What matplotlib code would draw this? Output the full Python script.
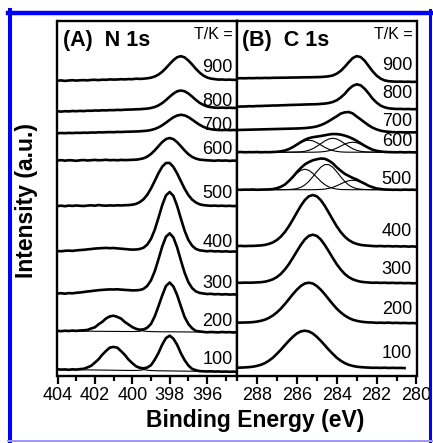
import numpy as np
import matplotlib.pyplot as plt
from matplotlib.lines import Line2D
from matplotlib.ticker import MultipleLocator

plt.rcParams['font.family'] = ['Liberation Sans', 'DejaVu Sans']

temps = ['900', '800', '700', '600', '500', '400', '300', '200', '100']

# binding energy grids (eV)
n1s_energy = np.round(np.linspace(404.0, 394.4, 49), 2)
c1s_energy = np.round(np.linspace(289.0, 280.0, 46), 2)

# N 1s spectra, intensity above each spectrum's own baseline (a.u.)
n1s_900 = [0, 0.3, -0.2, 0.2, 0.5, 0.1, 0.4, 0.6, 0.3, 0.8, 0.9, 0.6, 1.0, 0.9, 1.3, 1.1, 1.2, 1.5, 1.3, 1.6,
           1.5, 2.0, 1.8, 2.0, 2.4, 3.0, 4.2, 6.1, 8.9, 12.6, 16.7, 20.6, 23.5, 24.5, 23.3, 20.2, 16.2, 11.9, 8.1,
           5.2, 3.2, 2.1, 1.6, 1.1, 1.2, 0.9, 1.1, 0.8, 1.0]
n1s_800 = [0.2, -0.1, 0.3, 0.1, 0.5, 0.3, 0.6, 0.4, 0.8, 0.7, 1.0, 0.9, 1.2, 1.1, 1.4, 1.3, 1.6, 1.5, 1.8, 1.9,
           2.0, 2.2, 2.3, 2.6, 2.9, 3.5, 4.5, 6.1, 8.4, 11.4, 14.8, 17.9, 20.2, 21.0, 20.2, 18.0, 14.9, 11.6, 8.7,
           6.6, 5.1, 4.3, 3.9, 3.7, 3.9, 3.6, 3.8, 3.5, 3.7]
n1s_700 = [0, 0.3, 0.1, 0.4, 0.2, 0.5, 0.4, 0.6, 0.5, 0.8, 0.7, 1.0, 0.9, 1.1, 1.2, 1.1, 1.4, 1.3, 1.5, 1.6,
           1.7, 1.8, 2.0, 2.3, 2.6, 3.3, 4.3, 5.9, 8.0, 10.6, 13.4, 16.0, 17.8, 18.5, 17.9, 16.2, 13.7, 11.0, 8.5,
           6.5, 5.0, 4.1, 3.6, 3.3, 3.2, 3.4, 3.1, 3.3, 3.2]
n1s_600 = [0, 0.4, -0.2, 0.3, 0.1, -0.3, 0.2, 0.5, 0.0, 0.3, 0.6, 0.2, 0.4, 0.7, 0.3, 0.5, 0.2, 0.6, 0.4, 0.5,
           0.7, 0.8, 1.4, 2.2, 3.9, 6.5, 10.1, 14.3, 18.4, 21.4, 22.5, 21.3, 18.3, 14.2, 10.0, 6.3, 3.6, 1.9, 0.9,
           0.5, 0.2, 0.0, -0.3, 0.1, -0.2, 0.0, -0.4, -0.1, -0.3]
n1s_500 = [0, 0.3, -0.2, 0.4, 0.1, 0.5, 0.2, 0.0, 0.4, 0.7, 0.3, 1.0, 0.5, 0.3, 0.6, 0.4, 0.7, 0.5, 0.8, 0.9,
           1.3, 2.1, 3.9, 6.7, 11.2, 17.5, 25.0, 32.8, 39.3, 43.0, 43.0, 39.0, 32.5, 24.8, 17.2, 10.9, 6.4, 3.5,
           1.7, 0.9, 0.5, 0.2, 0.4, 0.1, 0.3, 0.0, 0.2, -0.1, 0.1]
n1s_400 = [0, -0.3, 0.2, 0.4, 0.1, 0.6, 0.9, 1.2, 1.6, 2.0, 2.4, 2.7, 2.9, 3.1, 2.8, 3.0, 2.6, 2.3, 2.0, 1.6,
           1.4, 1.5, 2.0, 3.3, 6.4, 12.1, 21.2, 33.2, 45.8, 55.6, 59.0, 55.0, 45.0, 32.4, 20.3, 11.0, 5.3, 2.1,
           0.7, 0.2, -0.3, 0.1, -0.4, -0.2, -0.6, -0.3, -0.7, -0.5, -0.6]
n1s_300 = [0, 0.3, -0.2, 0.4, 0.2, 0.7, 1.0, 1.5, 2.0, 2.4, 2.9, 3.3, 3.6, 3.9, 4.1, 4.0, 4.2, 3.9, 3.6, 3.4,
           3.1, 3.2, 3.5, 4.6, 7.6, 13.2, 22.2, 34.2, 46.9, 56.7, 60.2, 56.0, 46.0, 33.0, 20.7, 11.3, 5.4, 2.1,
           0.6, 0.0, -0.5, -0.3, -0.8, -0.6, -1.0, -0.7, -1.1, -0.9, -1.0]
n1s_200 = [0.2, -0.2, 0.3, 0.0, 0.4, 0.1, 0.5, 0.7, 1.1, 2.5, 3.7, 6.8, 9.2, 12.6, 14.6, 15.3, 14.1, 12.4, 9.0,
           6.5, 3.9, 2.2, 1.3, 1.6, 3.3, 7.1, 14.6, 24.8, 35.5, 45.0, 48.5, 44.4, 35.9, 24.6, 13.9, 7.0, 2.7, 0.1,
           -0.4, -0.9, -1.3, -1.0, -1.2, -1.4, -1.0, -1.3, -1.1, -1.5, -1.2]
n1s_100 = [0.2, -0.1, 0.1, -0.3, 0.2, -0.1, 0.4, 0.7, 2.1, 3.7, 6.9, 10.3, 14.9, 18.6, 21.9, 22.6, 21.8, 18.4,
           14.6, 9.9, 6.4, 3.2, 1.7, 1.2, 2.0, 4.3, 9.8, 16.5, 24.9, 31.4, 33.8, 30.8, 24.7, 16.2, 9.3, 4.0, 0.6,
           -0.7, -1.6, -1.8, -2.0, -1.8, -2.1, -1.9, -2.2, -2.0, -2.3, -2.1, -2.4]

# N 1s fitted components (401.0 and 398.0 eV)
n1s_200_fit1 = [0.0, 0.0, -0.1, -0.1, -0.1, 0.0, 0.0, 0.4, 1.0, 2.2, 3.9, 6.4, 9.4, 12.3, 14.3, 15.1, 14.3, 12.1,
                9.2, 6.2, 3.7, 1.8, 0.6, 0.0, -0.4, -0.6, -0.7, -0.7, -0.8, -0.8, -0.8, -0.8, -0.9, -0.9, -0.9,
                -1.0, -1.0, -1.0, -1.0, -1.1, -1.1, -1.1, -1.1, -1.2, -1.2, -1.2, -1.2, -1.3, -1.3]
n1s_200_fit2 = [0.0, 0.0, -0.1, -0.1, -0.1, -0.1, -0.2, -0.2, -0.2, -0.2, -0.3, -0.3, -0.3, -0.4, -0.4, -0.4,
                -0.4, -0.5, -0.5, -0.5, -0.5, -0.5, -0.2, 0.7, 2.8, 7.0, 14.3, 24.5, 35.7, 44.7, 48.2, 44.7, 35.6,
                24.3, 14.1, 6.8, 2.4, 0.3, -0.6, -1.1, -1.1, -1.1, -1.1, -1.2, -1.2, -1.2, -1.2, -1.3, -1.3]
n1s_100_fit1 = [0.0, 0.0, -0.1, -0.1, -0.1, 0.0, 0.2, 0.8, 1.9, 3.9, 6.7, 10.5, 14.7, 18.8, 21.7, 22.8, 21.6, 18.6,
                14.4, 10.1, 6.2, 3.3, 1.2, 0.0, -0.7, -1.0, -1.2, -1.3, -1.3, -1.4, -1.4, -1.5, -1.5, -1.6, -1.6,
                -1.7, -1.7, -1.8, -1.8, -1.9, -1.9, -2.0, -2.0, -2.1, -2.1, -2.2, -2.2, -2.3, -2.3]
n1s_100_fit2 = [0.0, 0.0, -0.1, -0.1, -0.2, -0.2, -0.3, -0.3, -0.4, -0.4, -0.5, -0.5, -0.6, -0.6, -0.7, -0.7,
                -0.8, -0.8, -0.9, -0.9, -1.0, -0.9, -0.8, -0.2, 1.3, 4.3, 9.5, 16.7, 24.7, 31.1, 33.6, 31.0, 24.5,
                16.4, 9.1, 3.8, 0.8, -0.9, -1.5, -1.9, -1.9, -2.0, -2.0, -2.1, -2.1, -2.2, -2.2, -2.3, -2.3]

# C 1s spectra
c1s_900 = [0.0, 0.1, 0.0, 0.2, 0.1, 0.3, 0.2, 0.4, 0.3, 0.5, 0.5, 0.6, 0.6, 0.7, 0.8, 0.8, 0.9, 1.0, 1.0, 1.1,
           1.2, 1.3, 1.6, 2.0, 2.8, 4.6, 7.4, 11.4, 16.0, 20.2, 22.2, 21.2, 17.6, 12.3, 7.0, 2.7, -0.3, -2.1, -2.9,
           -3.2, -3.4, -3.3, -3.5, -3.4, -3.6, -3.5]
c1s_800 = [0.0, 0.2, 0.2, 0.5, 0.4, 0.7, 0.7, 0.9, 1.0, 1.2, 1.2, 1.4, 1.5, 1.7, 1.8, 1.9, 2.0, 2.2, 2.3, 2.4,
           2.5, 2.8, 3.1, 3.7, 4.7, 6.4, 9.2, 12.8, 17.4, 20.8, 22.4, 21.4, 18.0, 13.3, 8.0, 4.1, 1.1, -0.6, -1.6,
           -2.0, -2.3, -2.2, -2.4, -2.3, -2.5, -2.4]
c1s_700 = [0.0, 0.1, 0.2, 0.3, 0.4, 0.5, 0.6, 0.7, 0.8, 0.9, 1.0, 1.1, 1.2, 1.3, 1.4, 1.5, 1.7, 1.9, 2.3, 2.8,
           3.6, 4.9, 6.6, 8.8, 11.3, 13.7, 16.4, 17.6, 18.0, 16.6, 13.5, 10.6, 7.6, 4.7, 2.3, 0.6, -0.7, -1.4,
           -1.8, -2.1, -2.3, -2.2, -2.4, -2.3, -2.4, -2.3]
c1s_600 = [0.0, 0.2, -0.1, 0.1, 0.0, 0.2, -0.1, 0.1, 0.0, 0.2, 0.4, 0.9, 1.7, 3.1, 5.1, 7.6, 10.1, 12.4, 14.0,
           15.0, 15.6, 16.2, 16.9, 17.7, 18.2, 18.1, 17.6, 16.6, 15.3, 13.5, 11.4, 8.9, 6.5, 4.3, 2.5, 1.4, 0.7,
           0.3, 0.1, 0.0, -0.1, 0.1, -0.2, 0.0, -0.1, -0.2]
c1s_500 = [0.0, -0.1, 0.1, 0.0, 0.2, -0.1, 0.1, 0.2, 0.3, 0.6, 1.5, 2.9, 5.1, 8.7, 12.8, 17.6, 21.7, 25.3, 27.6,
           29.4, 30.4, 31.2, 30.9, 29.1, 26.4, 22.4, 19.0, 15.9, 13.8, 11.8, 10.2, 8.0, 6.1, 3.9, 2.5, 1.2, 0.7,
           0.2, 0.1, -0.1, 0.0, -0.2, 0.1, -0.1, 0.0, -0.2]
c1s_400 = [0.0, 0.1, -0.1, 0.1, 0.1, 0.3, 0.6, 1.1, 2.1, 3.6, 6.0, 9.4, 14.0, 19.7, 26.4, 33.4, 40.2, 45.9, 49.7,
           51.0, 49.7, 45.9, 40.2, 33.4, 26.4, 19.7, 14.0, 9.4, 6.0, 3.6, 2.1, 1.1, 0.6, 0.3, 0.0, -0.2, 0.0, -0.3,
           -0.1, -0.4, -0.2, -0.5, -0.3, -0.6, -0.4, -0.7]
c1s_300 = [0.0, -0.1, 0.1, 0.0, 0.1, 0.3, 0.5, 1.0, 2.0, 3.4, 5.6, 8.8, 13.2, 18.5, 24.8, 31.4, 37.8, 43.2, 46.8,
           48.0, 46.8, 43.2, 37.8, 31.4, 24.8, 18.5, 13.2, 8.8, 5.6, 3.4, 2.0, 1.0, 0.5, 0.2, -0.1, 0.1, -0.2, 0.0,
           -0.3, -0.1, -0.4, -0.2, -0.5, -0.3, -0.6, -0.5]
c1s_200 = [0.0, 0.1, 0.2, 0.3, 0.6, 1.1, 1.9, 3.0, 4.8, 7.2, 10.3, 14.1, 18.6, 23.5, 28.5, 33.0, 36.7, 39.2, 40.0,
           39.2, 36.7, 33.0, 28.5, 23.5, 18.6, 14.1, 10.3, 7.2, 4.8, 3.0, 1.9, 1.1, 0.6, 0.3, 0.2, -0.1, 0.0, -0.2,
           0.1, -0.3, -0.1, -0.4, -0.2, -0.5, -0.3, -0.6]
c1s_100 = [0.0, 0.1, 0.3, 0.6, 1.0, 1.8, 2.9, 4.6, 7.0, 10.0, 13.9, 18.0, 22.5, 26.9, 30.9, 34.2, 36.3, 37.0, 36.3,
           34.2, 30.9, 26.9, 22.5, 18.0, 13.9, 10.0, 7.0, 4.6, 2.9, 1.8, 1.0, 0.6, 0.3, 0.1, -0.1, 0.0, -0.2, 0.0,
           -0.3, -0.1, -0.3, -0.2, -0.4, np.nan, np.nan, np.nan]

# C 1s fitted components (600 K and 500 K)
c1s_600_fit1 = [0.0, 0.0, 0.0, 0.0, 0.0, 0.0, 0.0, 0.0, 0.0, 0.1, 0.3, 0.8, 1.6, 3.0, 4.9, 7.3, 9.6, 11.4, 12.0,
                11.4, 9.6, 7.3, 4.9, 3.0, 1.6, 0.8, 0.3, 0.1, 0.0, 0.0, 0.0, 0.0, 0.0, 0.0, 0.0, 0.0, 0.0, 0.0,
                0.0, 0.0, 0.0, 0.0, 0.0, 0.0, 0.0, 0.0]
c1s_600_fit2 = [0.0, 0.0, 0.0, 0.0, 0.0, 0.0, 0.0, 0.0, 0.0, 0.0, 0.0, 0.0, 0.0, 0.0, 0.1, 0.2, 0.4, 0.9, 1.9,
                3.5, 5.8, 8.5, 11.2, 13.2, 14.0, 13.2, 11.2, 8.5, 5.8, 3.5, 1.9, 0.9, 0.4, 0.2, 0.1, 0.0, 0.0, 0.0,
                0.0, 0.0, 0.0, 0.0, 0.0, 0.0, 0.0, 0.0]
c1s_600_fit3 = [0.0, 0.0, 0.0, 0.0, 0.0, 0.0, 0.0, 0.0, 0.0, 0.0, 0.0, 0.0, 0.0, 0.0, 0.0, 0.0, 0.0, 0.0, 0.0,
                0.0, 0.1, 0.3, 0.7, 1.4, 2.5, 4.1, 6.1, 8.0, 9.5, 10.0, 9.5, 8.0, 6.1, 4.1, 2.5, 1.4, 0.7, 0.3, 0.1,
                0.0, 0.0, 0.0, 0.0, 0.0, 0.0, 0.0]
c1s_500_fit1 = [0.0, 0.0, 0.0, 0.0, 0.0, 0.0, 0.0, 0.1, 0.2, 0.6, 1.4, 2.8, 5.1, 8.4, 12.4, 16.4, 19.4, 20.5, 19.4,
                16.4, 12.4, 8.4, 5.1, 2.8, 1.4, 0.6, 0.2, 0.1, 0.0, 0.0, 0.0, 0.0, 0.0, 0.0, 0.0, 0.0, 0.0, 0.0,
                0.0, 0.0, 0.0, 0.0, 0.0, 0.0, 0.0, 0.0]
c1s_500_fit2 = [0.0, 0.0, 0.0, 0.0, 0.0, 0.0, 0.0, 0.0, 0.0, 0.0, 0.0, 0.0, 0.1, 0.2, 0.5, 1.1, 2.4, 4.7, 8.3,
                12.9, 18.0, 22.5, 25.1, 25.1, 22.5, 18.0, 12.9, 8.3, 4.7, 2.4, 1.1, 0.5, 0.2, 0.1, 0.0, 0.0, 0.0,
                0.0, 0.0, 0.0, 0.0, 0.0, 0.0, 0.0, 0.0, 0.0]
c1s_500_fit3 = [0.0, 0.0, 0.0, 0.0, 0.0, 0.0, 0.0, 0.0, 0.0, 0.0, 0.0, 0.0, 0.0, 0.0, 0.0, 0.0, 0.0, 0.0, 0.0,
                0.0, 0.1, 0.3, 0.6, 1.3, 2.4, 3.9, 5.8, 7.6, 9.0, 9.5, 9.0, 7.6, 5.8, 3.9, 2.4, 1.3, 0.6, 0.3, 0.1,
                0.0, 0.0, 0.0, 0.0, 0.0, 0.0, 0.0]

# vertical stacking offsets (baseline of each spectrum)
n1s_offsets = [295.3, 264.5, 242.7, 215.5, 170.0, 125.0, 82.5, 45.0, 6.5]
c1s_offsets = [297.7, 269.3, 246.0, 223.8, 186.3, 130.0, 93.3, 53.3, 8.3]
n1s_label_y = [309, 275, 250, 226, 183, 134, 93, 55, 17]
c1s_label_y = [311, 283, 255, 234, 196, 145, 106, 66, 22]

n1s_spectra = [n1s_900, n1s_800, n1s_700, n1s_600, n1s_500, n1s_400, n1s_300, n1s_200, n1s_100]
c1s_spectra = [c1s_900, c1s_800, c1s_700, c1s_600, c1s_500, c1s_400, c1s_300, c1s_200, c1s_100]
n1s_fits = {7: [n1s_200_fit1, n1s_200_fit2], 8: [n1s_100_fit1, n1s_100_fit2]}
c1s_fits = {3: [c1s_600_fit1, c1s_600_fit2, c1s_600_fit3], 4: [c1s_500_fit1, c1s_500_fit2, c1s_500_fit3]}

W, H = 433, 443
fig = plt.figure(figsize=(W / 100, H / 100), dpi=100)
ax_n = fig.add_axes([57.5 / W, 67 / H, 179.5 / W, 355 / H])
ax_c = fig.add_axes([237 / W, 67 / H, 179.5 / W, 355 / H])

panels = [
    (ax_n, n1s_energy, n1s_spectra, n1s_offsets, n1s_fits, n1s_label_y, (404, 394.4), [404, 402, 400, 398, 396], '(A)  N 1s'),
    (ax_c, c1s_energy, c1s_spectra, c1s_offsets, c1s_fits, c1s_label_y, (289, 280), [288, 286, 284, 282, 280], '(B)  C 1s'),
]

for ax, energy, spectra, offsets, fits, label_y, xlim, ticks, title in panels:
    for k in range(len(spectra)):
        if k in fits:
            for comp in fits[k]:
                ax.plot(energy, np.array(comp) + offsets[k], color='black', lw=0.8)
        ax.plot(energy, np.array(spectra[k]) + offsets[k], color='black', lw=1.9)
        ax.text(0.975, label_y[k], temps[k], transform=ax.get_yaxis_transform(),
                ha='right', va='center', fontsize=13)
    ax.set_xlim(*xlim)
    ax.set_ylim(0, 355)
    ax.set_yticks([])
    ax.set_xticks(ticks)
    ax.xaxis.set_minor_locator(MultipleLocator(1))
    ax.tick_params(axis='x', which='major', direction='out', length=6, width=1.6, labelsize=13, pad=2)
    ax.tick_params(axis='x', which='minor', direction='out', length=3.5, width=1.6)
    for sp in ax.spines.values():
        sp.set_linewidth(1.7)
    ax.text(0.03, 336, title, transform=ax.get_yaxis_transform(), ha='left', va='center',
            fontsize=15.5, fontweight='bold')
    ax.text(0.978, 342, 'T/K =', transform=ax.get_yaxis_transform(), ha='right', va='center', fontsize=11.5)

fig.text(255 / W, 1 - 421 / H, 'Binding Energy (eV)', ha='center', va='center', fontsize=16.5, fontweight='bold')
fig.text(27 / W, 1 - 200 / H, 'Intensity (a.u.)', ha='center', va='center', rotation=90,
         fontsize=16.5, fontweight='bold')

# blue frame around the figure
fig.add_artist(Line2D([10.3 / W, 10.3 / W], [0, 1 - 10 / H], color='#0000ff', lw=2.9))
fig.add_artist(Line2D([8 / W, 432 / W], [1 - 12.5 / H, 1 - 12.5 / H], color='#0000ff', lw=3.2))
fig.add_artist(Line2D([430 / W, 430 / W], [0, 1 - 10 / H], color='#0000ff', lw=2.2))
fig.add_artist(Line2D([8 / W, 432 / W], [1 - 441 / H, 1 - 441 / H], color='#9999ff', lw=1.4))

fig.savefig('out.png', dpi=100)
